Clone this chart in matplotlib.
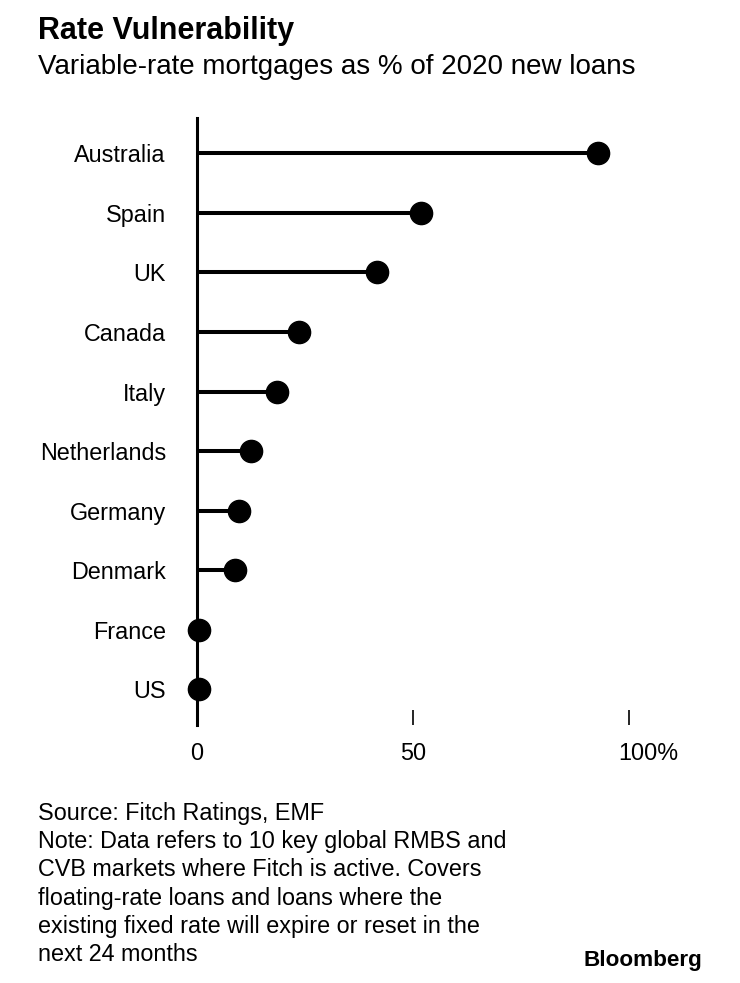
import numpy as np
import matplotlib
matplotlib.use("Agg")
import matplotlib.pyplot as plt
from matplotlib.transforms import ScaledTranslation

plt.rcParams["font.family"] = ["Liberation Sans", "DejaVu Sans"]

countries = ["Australia", "Spain", "UK", "Canada", "Italy",
             "Netherlands", "Germany", "Denmark", "France", "US"]
share = [92.7, 51.9, 41.8, 23.6, 18.5, 12.7, 9.8, 9.0, 0.6, 0.6]
xticks = [0, 50, 100]
xtick_labels = ["0", "50", "100%"]

title = "Rate Vulnerability"
subtitle = "Variable-rate mortgages as % of 2020 new loans"
notes = ["Source: Fitch Ratings, EMF",
         "Note: Data refers to 10 key global RMBS and",
         "CVB markets where Fitch is active. Covers",
         "floating-rate loans and loans where the",
         "existing fixed rate will expire or reset in the",
         "next 24 months"]

W, H = 740, 983
fig = plt.figure(figsize=(W / 100, H / 100), dpi=100)
# axes box in pixels: x 196.5 -> 629.3, y 118 -> 725
ax = fig.add_axes([196.5 / W, 1 - 725 / H, (629.3 - 196.5) / W, (725 - 118) / H])

y = np.arange(len(countries))
ax.hlines(y, 0, share, color="black", lw=2.9, zorder=2)
ax.plot(share, y, "o", color="black", ms=16, clip_on=False, zorder=3)

ax.set_xlim(0, 100)
ax.set_ylim(9.6, -0.593)
ax.set_yticks(y)
ax.set_yticklabels(countries, fontsize=16.8)
ax.tick_params(axis="y", length=0, pad=22)
ax.set_xticks(xticks)
ax.set_xticklabels(xtick_labels, fontsize=16.8)
ax.tick_params(axis="x", direction="in", length=10.8, width=1.2, pad=12.5)
lbl = ax.get_xticklabels()[-1]
lbl.set_transform(lbl.get_transform() + ScaledTranslation(0.19, 0, fig.dpi_scale_trans))

for s in ["top", "right", "bottom"]:
    ax.spines[s].set_visible(False)
ax.spines["left"].set_linewidth(2.2)

fig.text(38 / W, 1 - 39.5 / H, title, fontsize=22, fontweight="bold", va="baseline")
fig.text(38 / W, 1 - 73.5 / H, subtitle, fontsize=20, va="baseline")
for i, line in enumerate(notes):
    fig.text(38 / W, 1 - (820 + 28.2 * i) / H, line, fontsize=16.8, va="baseline")
fig.text(702 / W, 1 - 966 / H, "Bloomberg", fontsize=16.2, fontweight="bold",
         ha="right", va="baseline")

fig.savefig("out.png", dpi=100, facecolor="white")
